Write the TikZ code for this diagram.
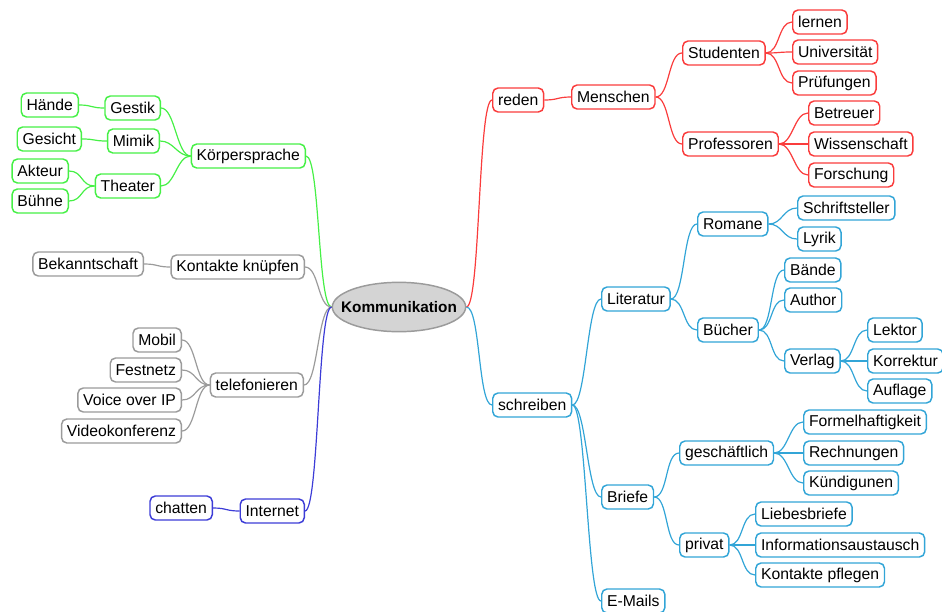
\documentclass[tikz,border=0pt]{standalone}
\usepackage{fontspec}
\setmainfont{Liberation Sans}
\usepackage{tikz}
\usetikzlibrary{shapes.geometric}
\definecolor{branchgreen}{RGB}{70,240,70}
\definecolor{branchgray}{RGB}{155,155,155}
\definecolor{branchblue}{RGB}{60,60,215}
\definecolor{branchred}{RGB}{250,60,60}
\definecolor{branchcyan}{RGB}{50,165,215}
\definecolor{hubfill}{RGB}{212,212,212}

\begin{document}
\begin{tikzpicture}[
    x=0.75pt, y=-0.75pt,
    topic/.style={rectangle, rounded corners=4pt, draw=#1, fill=white, line width=1.1pt,
                  minimum height=18pt, inner xsep=4pt, inner ysep=2pt,
                  font=\fontsize{11.8}{14}\selectfont},
    rtopic/.style={topic=#1, anchor=west},
    ltopic/.style={topic=#1, anchor=east},
    hub/.style={ellipse, draw=branchgray, fill=hubfill, line width=1.1pt,
                minimum width=100pt, minimum height=37pt, inner sep=0pt,
                font=\fontsize{11.5}{14}\selectfont\bfseries},
    link/.style={draw=#1, line width=0.9pt,
                 to path={.. controls +(14,0) and +(-14,0) .. (\tikztotarget)}},
]
\useasboundingbox (0,0) rectangle (942,611);

% Center
\node[hub] (hub) at (399,307) {\makebox[0pt]{Kommunikation}};

% Koerpersprache branch
\node[ltopic=branchgreen] (koerper) at (306,156) {Körpersprache};
\node[ltopic=branchgreen] (gestik) at (161,108) {Gestik};
\node[ltopic=branchgreen] (haende) at (79,105) {Hände};
\node[ltopic=branchgreen] (mimik) at (160,141) {Mimik};
\node[ltopic=branchgreen] (gesicht) at (82,139) {Gesicht};
\node[ltopic=branchgreen] (theater) at (161,186) {Theater};
\node[ltopic=branchgreen] (akteur) at (69,171) {Akteur};
\node[ltopic=branchgreen] (buehne) at (69,201) {Bühne};

% Kontakte branch
\node[ltopic=branchgray] (kontakte) at (305,267) {Kontakte knüpfen};
\node[ltopic=branchgray] (bekannt) at (144,264) {Bekanntschaft};

% Telefonieren branch
\node[ltopic=branchgray] (telefon) at (304,385) {telefonieren};
\node[ltopic=branchgray] (mobil) at (182,340) {Mobil};
\node[ltopic=branchgray] (festnetz) at (182,370) {Festnetz};
\node[ltopic=branchgray] (voip) at (182,400) {Voice over IP};
\node[ltopic=branchgray] (video) at (182,431) {Videokonferenz};

% Internet branch
\node[ltopic=branchblue] (internet) at (305,511) {Internet};
\node[ltopic=branchblue] (chatten) at (213,508) {chatten};

% Reden branch
\node[rtopic=branchred] (reden) at (492,100) {reden};
\node[rtopic=branchred] (menschen) at (571,97) {Menschen};
\node[rtopic=branchred] (studenten) at (682,53) {Studenten};
\node[rtopic=branchred] (lernen) at (792,22) {lernen};
\node[rtopic=branchred] (uni) at (792,52) {Universität};
\node[rtopic=branchred] (pruef) at (792,83) {Prüfungen};
\node[rtopic=branchred] (profs) at (682,144) {Professoren};
\node[rtopic=branchred] (betreuer) at (808,113) {Betreuer};
\node[rtopic=branchred] (wissen) at (808,144) {Wissenschaft};
\node[rtopic=branchred] (forschung) at (808,175) {Forschung};

% Schreiben branch
\node[rtopic=branchcyan] (schreiben) at (492,405) {schreiben};
\node[rtopic=branchcyan] (literatur) at (601,299) {Literatur};
\node[rtopic=branchcyan] (romane) at (697,224) {Romane};
\node[rtopic=branchcyan] (schrift) at (797,208) {Schriftsteller};
\node[rtopic=branchcyan] (lyrik) at (797,239) {Lyrik};
\node[rtopic=branchcyan] (buecher) at (697,330) {Bücher};
\node[rtopic=branchcyan] (baende) at (784,270) {Bände};
\node[rtopic=branchcyan] (author) at (784,300) {Author};
\node[rtopic=branchcyan] (verlag) at (784,361) {Verlag};
\node[rtopic=branchcyan] (lektor) at (867,330) {Lektor};
\node[rtopic=branchcyan] (korrektur) at (867,361) {Korrektur};
\node[rtopic=branchcyan] (auflage) at (867,391) {Auflage};
\node[rtopic=branchcyan] (briefe) at (601,497) {Briefe};
\node[rtopic=branchcyan] (geschaeft) at (679,453) {geschäftlich};
\node[rtopic=branchcyan] (formel) at (803,422) {Formelhaftigkeit};
\node[rtopic=branchcyan] (rechnung) at (803,453) {Rechnungen};
\node[rtopic=branchcyan] (kuendig) at (803,483) {Kündigunen};
\node[rtopic=branchcyan] (privat) at (679,545) {privat};
\node[rtopic=branchcyan] (liebe) at (755,514) {Liebesbriefe};
\node[rtopic=branchcyan] (info) at (755,545) {Informationsaustausch};
\node[rtopic=branchcyan] (pflegen) at (755,575) {Kontakte pflegen};
\node[rtopic=branchcyan] (emails) at (601,601) {E-Mails};

% Links, left side
\draw[link=branchgreen] (koerper.east) to (hub.west);
\draw[link=branchgreen] (gestik.east) to (koerper.west);
\draw[link=branchgreen] (mimik.east) to (koerper.west);
\draw[link=branchgreen] (theater.east) to (koerper.west);
\draw[link=branchgreen] (haende.east) to (gestik.west);
\draw[link=branchgreen] (gesicht.east) to (mimik.west);
\draw[link=branchgreen] (akteur.east) to (theater.west);
\draw[link=branchgreen] (buehne.east) to (theater.west);
\draw[link=branchgray] (kontakte.east) to (hub.west);
\draw[link=branchgray] (bekannt.east) to (kontakte.west);
\draw[link=branchgray] (telefon.east) to (hub.west);
\foreach \n in {mobil, festnetz, voip, video}
    \draw[link=branchgray] (\n.east) to (telefon.west);
\draw[link=branchblue] (internet.east) to (hub.west);
\draw[link=branchblue] (chatten.east) to (internet.west);

% Links, right side
\draw[link=branchred] (hub.east) to (reden.west);
\draw[link=branchred] (reden.east) to (menschen.west);
\draw[link=branchred] (menschen.east) to (studenten.west);
\draw[link=branchred] (menschen.east) to (profs.west);
\foreach \n in {lernen, uni, pruef}
    \draw[link=branchred] (studenten.east) to (\n.west);
\foreach \n in {betreuer, wissen, forschung}
    \draw[link=branchred] (profs.east) to (\n.west);
\draw[link=branchcyan] (hub.east) to (schreiben.west);
\foreach \n in {literatur, briefe, emails}
    \draw[link=branchcyan] (schreiben.east) to (\n.west);
\draw[link=branchcyan] (literatur.east) to (romane.west);
\draw[link=branchcyan] (literatur.east) to (buecher.west);
\draw[link=branchcyan] (romane.east) to (schrift.west);
\draw[link=branchcyan] (romane.east) to (lyrik.west);
\foreach \n in {baende, author, verlag}
    \draw[link=branchcyan] (buecher.east) to (\n.west);
\foreach \n in {lektor, korrektur, auflage}
    \draw[link=branchcyan] (verlag.east) to (\n.west);
\draw[link=branchcyan] (briefe.east) to (geschaeft.west);
\draw[link=branchcyan] (briefe.east) to (privat.west);
\foreach \n in {formel, rechnung, kuendig}
    \draw[link=branchcyan] (geschaeft.east) to (\n.west);
\foreach \n in {liebe, info, pflegen}
    \draw[link=branchcyan] (privat.east) to (\n.west);

\end{tikzpicture}
\end{document}
